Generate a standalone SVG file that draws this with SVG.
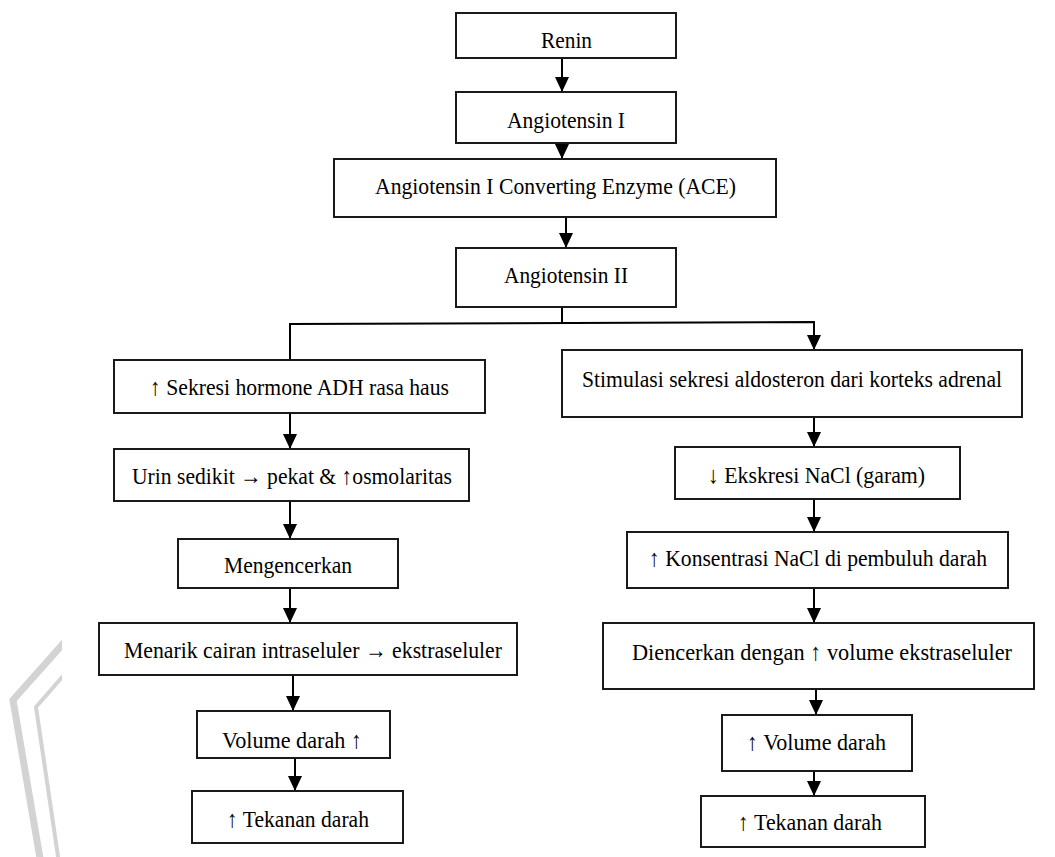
<svg xmlns="http://www.w3.org/2000/svg" width="1055" height="857" viewBox="0 0 1055 857">
<style>
.box{fill:#fff;stroke:#1a1a1a;stroke-width:2}
.t{font-family:"Liberation Serif","Times New Roman","DejaVu Serif",serif;font-size:24px;fill:#000;text-anchor:middle}
.c{fill:none;stroke:#000;stroke-width:2}
.wm{fill:none;stroke:#d3d3d3;stroke-linejoin:miter}
</style>
<defs>
<marker id="ad" markerUnits="userSpaceOnUse" markerWidth="16" markerHeight="14" refX="15" refY="7" orient="auto" viewBox="0 0 16 14">
<path d="M0,0 L15,7 L0,14 Z" fill="#000"/>
</marker>
<clipPath id="wmclip"><rect x="0" y="0" width="62" height="857"/></clipPath>
</defs>
<rect width="1055" height="857" fill="#fff"/>
<g id="watermark" clip-path="url(#wmclip)">
<polyline class="wm" stroke-width="7" points="70,636 13,700 42,870"/>
<polyline class="wm" stroke-width="4" points="70,668 36,707 60,870"/>
</g>
<g id="connectors">
<line class="c" x1="562" y1="58" x2="562" y2="92" marker-end="url(#ad)"/>
<line class="c" x1="562" y1="137" x2="562" y2="159" marker-end="url(#ad)"/>
<line class="c" x1="566" y1="217" x2="566" y2="248" marker-end="url(#ad)"/>
<polyline class="c" points="562,307 562,323"/>
<polyline class="c" points="290,360 290,324 814,322 814,350" marker-start="url(#ad)" marker-end="url(#ad)"/>
<line class="c" x1="290" y1="413" x2="290" y2="449" marker-end="url(#ad)"/>
<line class="c" x1="290" y1="501" x2="290" y2="539" marker-end="url(#ad)"/>
<line class="c" x1="290" y1="588" x2="290" y2="623" marker-end="url(#ad)"/>
<line class="c" x1="293" y1="675" x2="293" y2="711" marker-end="url(#ad)"/>
<line class="c" x1="295" y1="755" x2="295" y2="791" marker-end="url(#ad)"/>
<line class="c" x1="814" y1="417" x2="814" y2="447" marker-end="url(#ad)"/>
<line class="c" x1="814" y1="499" x2="814" y2="532" marker-end="url(#ad)"/>
<line class="c" x1="814" y1="588" x2="814" y2="623" marker-end="url(#ad)"/>
<line class="c" x1="816" y1="689" x2="816" y2="715" marker-end="url(#ad)"/>
<line class="c" x1="814" y1="767" x2="814" y2="796" marker-end="url(#ad)"/>
</g>
<g id="renin"><rect class="box" x="456" y="13" width="220" height="45"/><text class="t" x="566.5" y="48" textLength="51" lengthAdjust="spacingAndGlyphs">Renin</text></g>
<g id="angiotensin1"><rect class="box" x="456" y="92" width="220" height="51"/><text class="t" x="566" y="128" textLength="118" lengthAdjust="spacingAndGlyphs">Angiotensin I</text></g>
<g id="ace"><rect class="box" x="334" y="159" width="442" height="58"/><text class="t" x="555.5" y="194" textLength="361" lengthAdjust="spacingAndGlyphs">Angiotensin I Converting Enzyme (ACE)</text></g>
<g id="angiotensin2"><rect class="box" x="456" y="248" width="220" height="59"/><text class="t" x="566" y="283" textLength="124" lengthAdjust="spacingAndGlyphs">Angiotensin II</text></g>
<g id="adh"><rect class="box" x="114" y="360" width="371" height="53"/><text class="t" x="299.5" y="395" textLength="299" lengthAdjust="spacingAndGlyphs">↑ Sekresi hormone ADH rasa haus</text></g>
<g id="urin"><rect class="box" x="114" y="449" width="355" height="52"/><text class="t" x="292" y="484" textLength="320" lengthAdjust="spacingAndGlyphs">Urin sedikit → pekat &amp; ↑osmolaritas</text></g>
<g id="mengencerkan"><rect class="box" x="178" y="539" width="220" height="49"/><text class="t" x="288" y="573" textLength="128" lengthAdjust="spacingAndGlyphs">Mengencerkan</text></g>
<g id="menarik"><rect class="box" x="99" y="623" width="418" height="52"/><text class="t" x="313" y="658" textLength="378" lengthAdjust="spacingAndGlyphs">Menarik cairan intraseluler → ekstraseluler</text></g>
<g id="volume-left"><rect class="box" x="197" y="711" width="193" height="47"/><text class="t" x="292" y="748" textLength="140" lengthAdjust="spacingAndGlyphs">Volume darah ↑</text></g>
<g id="tekanan-left"><rect class="box" x="192" y="791" width="211" height="52"/><text class="t" x="298" y="827" textLength="142" lengthAdjust="spacingAndGlyphs">↑ Tekanan darah</text></g>
<g id="aldosteron"><rect class="box" x="562" y="350" width="460" height="67"/><text class="t" x="792" y="387" textLength="420" lengthAdjust="spacingAndGlyphs">Stimulasi sekresi aldosteron dari korteks adrenal</text></g>
<g id="ekskresi"><rect class="box" x="675" y="447" width="285" height="52"/><text class="t" x="816.5" y="483" textLength="217" lengthAdjust="spacingAndGlyphs">↓ Ekskresi NaCl (garam)</text></g>
<g id="konsentrasi"><rect class="box" x="627" y="532" width="381" height="56"/><text class="t" x="818" y="566" textLength="338" lengthAdjust="spacingAndGlyphs">↑ Konsentrasi NaCl di pembuluh darah</text></g>
<g id="diencerkan"><rect class="box" x="603" y="623" width="431" height="66"/><text class="t" x="822" y="660" textLength="380" lengthAdjust="spacingAndGlyphs">Diencerkan dengan ↑ volume ekstraseluler</text></g>
<g id="volume-right"><rect class="box" x="722" y="715" width="190" height="56"/><text class="t" x="816.5" y="750" textLength="139" lengthAdjust="spacingAndGlyphs">↑ Volume darah</text></g>
<g id="tekanan-right"><rect class="box" x="701" y="796" width="224" height="51"/><text class="t" x="810" y="830" textLength="144" lengthAdjust="spacingAndGlyphs">↑ Tekanan darah</text></g>
</svg>
